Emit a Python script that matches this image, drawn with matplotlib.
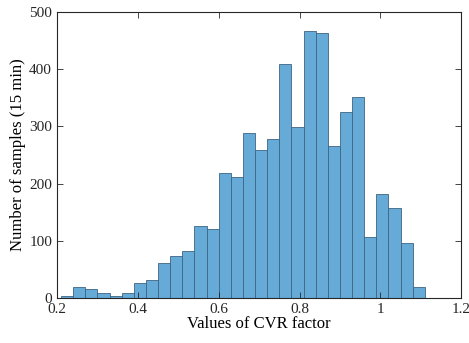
import numpy as np
import matplotlib
matplotlib.use("Agg")
import matplotlib.pyplot as plt

# histogram of CVR factor values, bins of 0.03 from 0.21 to 1.11
bin_start = 0.21
bin_width = 0.03
counts = [4, 20, 16, 9, 4, 8, 26, 32, 61, 74,
          82, 126, 121, 219, 212, 289, 258, 278, 409, 299,
          466, 463, 266, 325, 352, 106, 182, 157, 97, 19]
x_ticks = [0.2, 0.4, 0.6, 0.8, 1.0, 1.2]
x_tick_labels = ["0.2", "0.4", "0.6", "0.8", "1", "1.2"]
y_ticks = [0, 100, 200, 300, 400, 500]

plt.rcParams['font.family'] = ['Liberation Serif', 'DejaVu Serif']

edges = bin_start + bin_width * np.arange(len(counts))

fig = plt.figure(figsize=(4.69, 3.43), dpi=100)
ax = fig.add_axes([0.1215, 0.131, 0.862, 0.834])

ax.bar(edges, counts, width=bin_width, align='edge',
       color='#66aad8', edgecolor='#3d6482', linewidth=0.6)

ax.set_xlim(0.2, 1.2)
ax.set_ylim(0, 500)
ax.set_xticks(x_ticks)
ax.set_xticklabels(x_tick_labels)
ax.set_yticks(y_ticks)
ax.tick_params(direction='in', top=True, right=True, labelsize=11,
               length=4, width=0.6, colors='#262626', pad=3.5)
for s in ax.spines.values():
    s.set_linewidth(0.8)
    s.set_color('#262626')

ax.set_xlabel("Values of CVR factor", fontsize=12, labelpad=0)
ax.set_ylabel("Number of samples (15 min)", fontsize=12, labelpad=2)

fig.savefig("out.png", dpi=100)
